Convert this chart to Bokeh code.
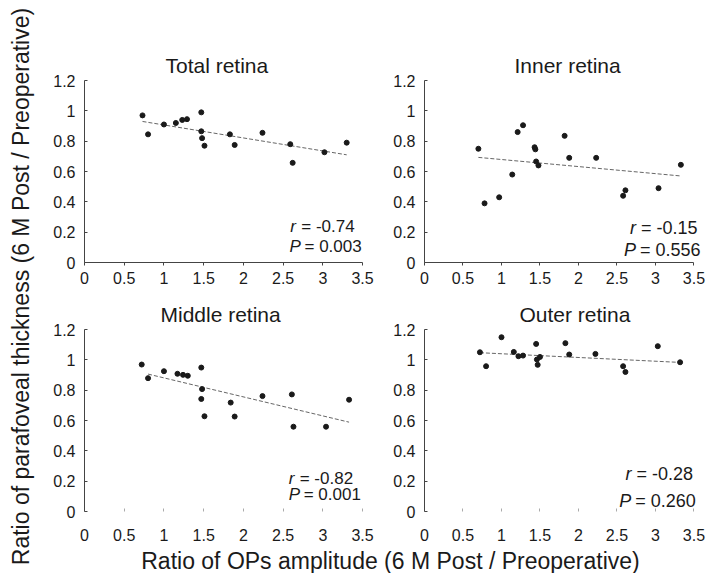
import numpy as np
from bokeh.plotting import figure
from bokeh.models import Label, FixedTicker, Range1d
from bokeh.layouts import row, column
from bokeh.embed import file_html
from bokeh.resources import INLINE

FONT = "Liberation Sans"

# ---------------- data ----------------
titles = ["Total retina", "Inner retina", "Middle retina", "Outer retina"]

total_x = [0.73, 0.80, 1.00, 1.15, 1.23, 1.29, 1.47, 1.47, 1.48, 1.51, 1.83, 1.89, 2.24, 2.59, 2.62, 3.02, 3.30]
total_y = [0.97, 0.845, 0.91, 0.92, 0.94, 0.945, 0.99, 0.865, 0.82, 0.77, 0.845, 0.775, 0.855, 0.78, 0.657, 0.727, 0.79]

inner_x = [0.70, 0.78, 0.97, 1.14, 1.21, 1.28, 1.43, 1.44, 1.45, 1.48, 1.82, 1.88, 2.23, 2.58, 2.61, 3.04, 3.33]
inner_y = [0.75, 0.39, 0.43, 0.58, 0.86, 0.905, 0.76, 0.746, 0.666, 0.64, 0.835, 0.69, 0.69, 0.44, 0.476, 0.49, 0.644]

middle_x = [0.72, 0.80, 1.00, 1.17, 1.24, 1.30, 1.47, 1.48, 1.47, 1.51, 1.84, 1.89, 2.24, 2.61, 2.63, 3.04, 3.33]
middle_y = [0.969, 0.879, 0.925, 0.908, 0.901, 0.895, 0.949, 0.807, 0.742, 0.628, 0.718, 0.626, 0.761, 0.772, 0.559, 0.559, 0.737]

outer_x = [0.72, 0.80, 1.00, 1.16, 1.22, 1.28, 1.45, 1.46, 1.50, 1.47, 1.83, 1.88, 2.22, 2.58, 2.61, 3.03, 3.32]
outer_y = [1.05, 0.958, 1.149, 1.052, 1.024, 1.028, 1.105, 1.002, 1.019, 0.967, 1.110, 1.035, 1.039, 0.958, 0.920, 1.090, 0.984]

# regression lines (end points)
trend_x = [[0.73, 3.30], [0.70, 3.32], [0.80, 3.33], [0.72, 3.32]]
trend_y = [[0.93, 0.71], [0.693, 0.571], [0.906, 0.589], [1.047, 0.983]]

r_values = ["-0.74", "-0.15", "-0.82", "-0.28"]
p_values = ["0.003", "0.556", "0.001", "0.260"]

x_ticks = [0, 0.5, 1, 1.5, 2, 2.5, 3, 3.5]
x_tick_labels = ["0", "0.5", "1", "1.5", "2", "2.5", "3", "3.5"]
y_ticks = [0, 0.2, 0.4, 0.6, 0.8, 1.0, 1.2]
y_tick_labels = ["0", "0.2", "0.4", "0.6", "0.8", "1", "1.2"]

y_axis_title = "Ratio of parafoveal thickness (6 M Post / Preoperative)"
x_axis_title = "Ratio of OPs amplitude (6 M Post / Preoperative)"

xs = [total_x, inner_x, middle_x, outer_x]
ys = [total_y, inner_y, middle_y, outer_y]

INK = "#1a1a1a"
AX = "#444444"
X_END = 3.65   # frame extends a little beyond the last tick so the r / P texts fit


def panel(i, width, height, b_left, b_right, b_top, b_bottom, bottom_row, title_offset,
          ann_x, r_y, p_y, ann_size, p_off):
    p = figure(width=width, height=height, output_backend="svg", toolbar_location=None,
               x_range=Range1d(0, X_END), y_range=Range1d(0, 1.2),
               min_border_left=b_left, min_border_right=b_right,
               min_border_top=b_top, min_border_bottom=b_bottom,
               title=titles[i])
    p.title.align = "left"
    p.title.text_font = FONT
    p.title.text_font_size = "21px"
    p.title.text_font_style = "normal"
    p.title.text_color = INK
    p.title.offset = title_offset
    p.title.standoff = 7
    p.outline_line_color = None
    p.xgrid.visible = False
    p.ygrid.visible = False
    p.background_fill_color = "white"
    p.border_fill_color = "white"

    for ax in (p.xaxis[0], p.yaxis[0]):
        ax.major_label_text_font = FONT
        ax.major_label_text_font_size = "16px"
        ax.major_label_text_color = INK
        ax.minor_tick_line_color = None
        ax.axis_line_color = AX
        ax.major_tick_line_color = AX

    p.xaxis.ticker = FixedTicker(ticks=x_ticks)
    p.xaxis.major_label_overrides = dict(zip(x_ticks, x_tick_labels))
    p.xaxis.bounds = (0, 3.5)
    p.yaxis.ticker = FixedTicker(ticks=y_ticks)
    p.yaxis.major_label_overrides = dict(zip(y_ticks, y_tick_labels))

    p.yaxis.major_tick_in = 3
    p.yaxis.major_tick_out = 0
    p.yaxis.major_label_standoff = 9

    if bottom_row:
        p.xaxis.axis_line_color = None
        p.xaxis.major_tick_line_color = "#aaaaaa"
        p.xaxis.major_tick_in = 3
        p.xaxis.major_tick_out = 0
        p.xaxis.major_label_standoff = 17
    else:
        p.xaxis.major_tick_in = 0
        p.xaxis.major_tick_out = 3
        p.xaxis.major_label_standoff = 6

    p.line(trend_x[i], trend_y[i], line_color="#666666", line_width=1, line_dash="4 2")
    p.scatter(xs[i], ys[i], size=5, color=INK)

    common = dict(text_font=FONT, text_font_size=ann_size, text_color=INK,
                  text_baseline="middle", x_units="data", y_units="data")
    p.add_layout(Label(x=ann_x[0], y=r_y, text="r", text_font_style="italic", **common))
    p.add_layout(Label(x=ann_x[0], y=r_y, x_offset=11, text="= " + r_values[i], **common))
    p.add_layout(Label(x=ann_x[1], y=p_y, text="P", text_font_style="italic", **common))
    p.add_layout(Label(x=ann_x[1], y=p_y, x_offset=p_off, text="= " + p_values[i], **common))
    return p


p1 = panel(0, 350, 290, 44, 16, 80, 28, False, 81, (2.59, 2.58), 0.237, 0.105, "17px", 15)
p2 = panel(1, 323, 290, 25, 8, 80, 28, False, 90, (2.67, 2.59), 0.23, 0.08, "18px", 16)
p3 = panel(2, 350, 257, 44, 16, 39, 36, True, 76, (2.57, 2.57), 0.22, 0.11, "17px", 15)
p4 = panel(3, 323, 257, 25, 8, 39, 36, True, 95, (2.61, 2.53), 0.245, 0.07, "18px", 16)


def text_fig(width, height):
    f = figure(width=width, height=height, output_backend="svg", toolbar_location=None,
               x_range=Range1d(0, width), y_range=Range1d(0, height),
               min_border=0, min_border_left=0, min_border_right=0,
               min_border_top=0, min_border_bottom=0)
    f.axis.visible = False
    f.xgrid.visible = False
    f.ygrid.visible = False
    f.outline_line_color = None
    f.background_fill_color = "white"
    f.border_fill_color = "white"
    return f


ylab = text_fig(40, 573)
ylab.add_layout(Label(x=20, y=287, x_units="screen", y_units="screen", text=y_axis_title,
                      angle=np.pi / 2, text_align="center", text_baseline="middle",
                      text_font=FONT, text_font_size="23px", text_color=INK))

xlab = text_fig(673, 26)
xlab.add_layout(Label(x=350, y=13, x_units="screen", y_units="screen", text=x_axis_title,
                      text_align="center", text_baseline="middle",
                      text_font=FONT, text_font_size="23px", text_color=INK))

layout = row(ylab, column(row(p1, p2), row(p3, p4), xlab))

open("out.html", "w").write(file_html(layout, INLINE))
